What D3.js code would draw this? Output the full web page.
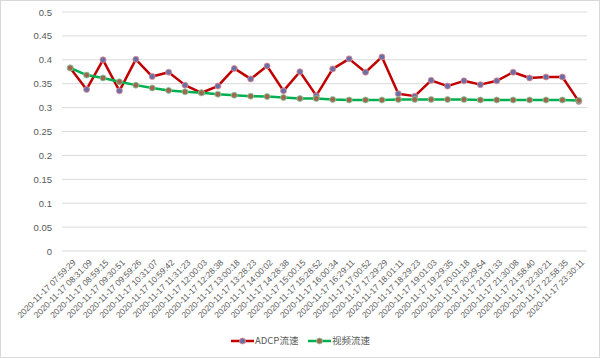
<!DOCTYPE html>
<html>
<head>
<meta charset="utf-8">
<script src="https://cdn.jsdelivr.net/npm/d3@7/dist/d3.min.js"></script>
<style>
body{margin:0;background:#fff;}
svg{display:block;font-family:"Noto Sans CJK SC","Liberation Sans",Arial,sans-serif;}
</style>
</head>
<body>
<svg id="chart" width="600" height="358"></svg>
<script>
const categories = ["2020-11-17 07:59:29","2020-11-17 08:31:09","2020-11-17 08:59:15","2020-11-17 09:30:51","2020-11-17 09:59:26","2020-11-17 10:31:07","2020-11-17 10:59:42","2020-11-17 11:31:23","2020-11-17 12:00:03","2020-11-17 12:28:38","2020-11-17 13:00:18","2020-11-17 13:28:23","2020-11-17 14:00:02","2020-11-17 14:28:38","2020-11-17 15:00:15","2020-11-17 15:28:52","2020-11-17 16:00:34","2020-11-17 16:29:11","2020-11-17 17:00:52","2020-11-17 17:29:29","2020-11-17 18:01:11","2020-11-17 18:29:23","2020-11-17 19:01:03","2020-11-17 19:29:35","2020-11-17 20:01:18","2020-11-17 20:29:54","2020-11-17 21:01:33","2020-11-17 21:30:08","2020-11-17 21:58:40","2020-11-17 22:30:21","2020-11-17 22:58:35","2020-11-17 23:30:11"];
const adcp = [0.383,0.338,0.400,0.335,0.401,0.365,0.374,0.347,0.331,0.345,0.382,0.360,0.387,0.335,0.375,0.325,0.381,0.402,0.374,0.406,0.329,0.324,0.357,0.345,0.356,0.348,0.356,0.374,0.362,0.364,0.364,0.313];
const video = [0.383,0.368,0.362,0.354,0.347,0.341,0.336,0.333,0.331,0.328,0.326,0.324,0.323,0.321,0.319,0.319,0.317,0.316,0.316,0.316,0.317,0.317,0.317,0.317,0.317,0.316,0.316,0.316,0.316,0.316,0.316,0.315];
const yTicks = [0,0.05,0.1,0.15,0.2,0.25,0.3,0.35,0.4,0.45,0.5];
const seriesNames = ["ADCP流速","视频流速"];

const svg = d3.select("#chart");
const W = 600, H = 358;
const m = {left:62, right:13, top:12, bottom:107};

svg.append("rect").attr("x",0.5).attr("y",0.5).attr("width",W-1).attr("height",H-1)
  .attr("fill","#fff").attr("stroke","#d9d9d9");

const x = d3.scaleBand().domain(categories).range([m.left, W-m.right]);
const y = d3.scaleLinear().domain([0,0.5]).range([H-m.bottom, m.top]);
const cx = d => x(d) + x.bandwidth()/2;

// gridlines
svg.append("g").selectAll("line").data(yTicks).join("line")
  .attr("x1",m.left).attr("x2",W-m.right)
  .attr("y1",d=>y(d)).attr("y2",d=>y(d))
  .attr("stroke","#d9d9d9").attr("stroke-width",1);

// y axis labels
const yAxis = d3.axisLeft(y).tickValues(yTicks).tickSize(0).tickPadding(10).tickFormat(d=>String(+d.toFixed(2)));
const yg = svg.append("g").attr("transform",`translate(${m.left},0)`).call(yAxis);
yg.select(".domain").remove();
yg.selectAll("text").attr("fill","#595959").attr("font-size","9.5px").attr("font-family","'Liberation Sans',Arial,sans-serif");

// x axis labels
const xAxis = d3.axisBottom(x).tickSize(0).tickPadding(0);
const xg = svg.append("g").attr("transform",`translate(0,${H-m.bottom})`).call(xAxis);
xg.select(".domain").remove();
xg.selectAll("text")
  .attr("fill","#595959").attr("font-size","8.5px").attr("font-family","'Liberation Sans',Arial,sans-serif")
  .attr("text-anchor","end").attr("dy","0.35em")
  .attr("transform","translate(4,10) rotate(-45)");

const line = d3.line().x((d,i)=>cx(categories[i])).y(d=>y(d));

function drawSeries(data, lineColor, fill, stroke){
  svg.append("path").datum(data).attr("d",line)
    .attr("fill","none").attr("stroke",lineColor).attr("stroke-width",2.5).attr("stroke-linejoin","round");
  svg.append("g").selectAll("circle").data(data).join("circle")
    .attr("cx",(d,i)=>cx(categories[i])).attr("cy",d=>y(d)).attr("r",3)
    .attr("fill",fill).attr("stroke",stroke).attr("stroke-width",0.8);
}
drawSeries(adcp, "#c00000", "#6a6fa8", "#e88a8a");
drawSeries(video, "#00b050", "#a2664e", "#7fd39e");

// legend
const legend = [
  {name:seriesNames[0], x:231, color:"#c00000", fill:"#6a6fa8", stroke:"#e88a8a"},
  {name:seriesNames[1], x:308, color:"#00b050", fill:"#a2664e", stroke:"#7fd39e"}
];
const ly = 341;
const lg = svg.append("g").selectAll("g").data(legend).join("g").attr("transform",d=>`translate(${d.x},${ly})`);
lg.append("line").attr("x1",0).attr("x2",23).attr("y1",0).attr("y2",0).attr("stroke",d=>d.color).attr("stroke-width",2.5);
lg.append("circle").attr("cx",11.5).attr("cy",0).attr("r",3).attr("fill",d=>d.fill).attr("stroke",d=>d.stroke).attr("stroke-width",0.8);
lg.append("text").attr("x",24).attr("y",0).attr("dy","0.35em").attr("font-size","9.5px").attr("fill","#595959").text(d=>d.name);
</script>
</body>
</html>
